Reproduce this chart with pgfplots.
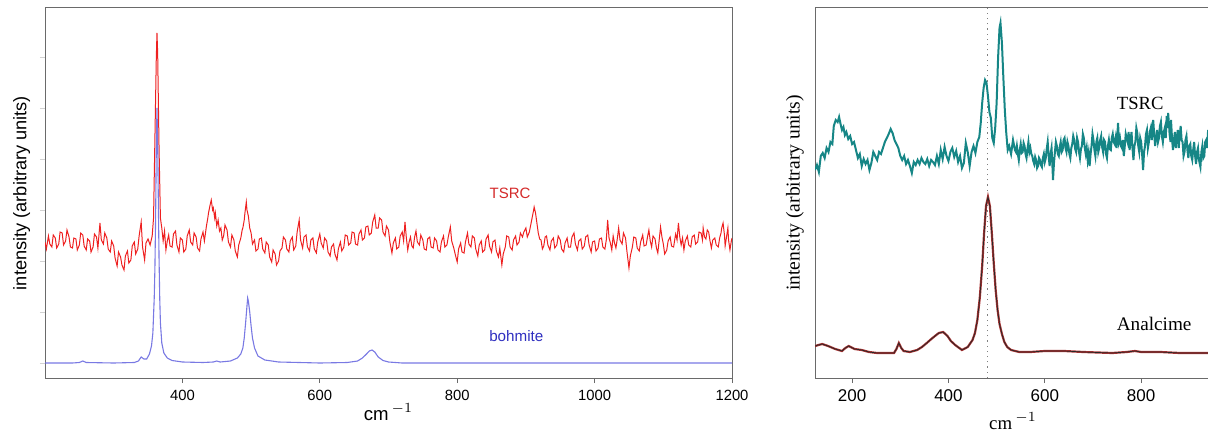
\documentclass[border=0pt]{standalone}
\usepackage{fontspec}
\setmainfont{Liberation Sans}
\newfontfamily\serifrm{Liberation Serif}
\usepackage{pgfplots}
\pgfplotsset{compat=1.18}
\definecolor{tsrcred}{HTML}{EE2020}
\definecolor{tsrclab}{HTML}{D42A2A}
\definecolor{bohblue}{HTML}{6A6AE0}
\definecolor{bohlab}{HTML}{3030C0}
\definecolor{tealc}{HTML}{168686}
\definecolor{analc}{HTML}{A83232}
\definecolor{frame}{HTML}{6A6A6A}

\pgfplotsset{
  panel/.style={
    scale only axis, anchor=south west, height=185pt,
    ymin=0, ymax=370, clip=true,
    tick align=outside, major tick length=2.5pt,
    xtick pos=bottom, ytick pos=left,
    axis line style={frame, line width=0.5pt},
    xtick style={frame, line width=0.5pt},
    /pgf/number format/assume math mode=true,
    /pgf/number format/set thousands separator={},
  },
}

\begin{document}
\begin{tikzpicture}
\path[use as bounding box] (0,0) rectangle (604pt,217pt);

% left panel: TSRC vs bohmite
\begin{axis}[panel, name=L, at={(22.5pt,28pt)}, width=343.5pt,
  xmin=200, xmax=1200, xtick={400,600,800,1000,1200},
  ytick={15,66,117,168,219,270,321}, yticklabels={},
  ytick style={gray!35, line width=0.4pt},
  ticklabel style={font=\fontsize{7.4}{8}\selectfont},
  xlabel={cm\,$^{-1}$},
  xlabel style={font=\fontsize{9.3}{10}\selectfont, at={(axis description cs:0.5,-0.092)}, anchor=center},
  ylabel={intensity (arbitrary units)},
  ylabel style={font=\fontsize{9.1}{10}\selectfont, at={(axis description cs:-0.0340,0.5)}, anchor=center},
]
\addplot[tsrcred, line width=0.5pt] coordinates {
(200,136) (202,129) (205,142) (207,134) (210,131) (212,143) (215,140) (217,130)
(220,134) (222,146) (225,145) (227,133) (230,137) (232,148) (235,141) (237,131)
(240,130) (242,140) (245,139) (247,128) (250,133) (252,145) (255,143) (257,132)
(260,128) (262,139) (265,137) (267,126) (270,131) (272,144) (275,141) (277,130)
(280,155) (282,138) (285,134) (287,145) (290,140) (292,129) (295,126) (297,137)
(300,132) (302,120) (305,112) (307,126) (310,121) (312,113) (315,108) (317,122)
(320,127) (322,115) (325,118) (327,132) (330,136) (332,124) (335,129) (337,142)
(340,156) (342,131) (345,118) (347,135) (350,139) (353,133) (356,142) (358,160)
(360,240) (362,320) (363,345) (364,325) (366,230) (368,160) (370,150) (372,137)
(374,147) (376,128) (378,137) (380,143) (382,132) (385,131) (387,144) (390,147)
(392,133) (395,126) (397,140) (400,138) (402,126) (405,129) (407,142) (410,148)
(412,136) (415,133) (417,145) (420,141) (422,130) (425,127) (427,139) (430,146)
(432,137) (435,152) (437,160) (438,165) (440,172) (442,178) (444,168) (445,170)
(447,160) (448,165) (450,152) (452,158) (454,147) (456,150) (458,138) (460,142)
(462,153) (465,148) (467,136) (470,131) (472,143) (475,138) (477,127) (480,121)
(482,133) (485,140) (487,148) (488,150) (490,158) (491,165) (493,176) (494,168)
(496,162) (498,150) (500,145) (502,134) (505,138) (507,127) (510,129) (512,139)
(515,140) (517,129) (520,125) (522,136) (525,133) (527,121) (530,116) (532,128)
(535,124) (537,113) (540,117) (542,127) (545,130) (547,141) (550,138) (552,129)
(555,126) (557,137) (560,141) (562,128) (565,132) (567,146) (570,158) (572,138)
(575,130) (577,141) (580,143) (582,131) (585,127) (587,138) (590,140) (592,129)
(595,125) (597,136) (600,144) (602,135) (605,130) (607,140) (610,137) (612,126)
(615,122) (617,131) (620,134) (622,124) (625,118) (627,129) (630,136) (632,127)
(635,131) (637,143) (640,142) (642,133) (645,135) (647,146) (650,145) (652,134)
(655,133) (657,144) (660,148) (662,138) (665,140) (667,151) (670,152) (672,143)
(675,145) (677,156) (680,163) (682,150) (685,150) (687,160) (690,158) (692,146)
(695,142) (697,152) (700,148) (702,136) (705,125) (707,135) (710,140) (712,129)
(715,131) (717,142) (720,146) (722,137) (724,156) (726,140) (728,128) (730,136)
(732,141) (734,132) (736,130) (738,141) (740,147) (742,136) (745,133) (747,143)
(750,138) (752,129) (755,128) (757,139) (760,141) (762,131) (765,130) (767,140)
(770,137) (772,128) (775,126) (777,136) (780,142) (782,131) (785,133) (787,141)
(790,151) (792,137) (795,130) (797,124) (800,116) (802,129) (805,135) (807,126)
(810,125) (812,136) (815,145) (817,134) (820,131) (822,142) (825,140) (827,129)
(830,122) (832,133) (835,137) (837,126) (840,128) (842,139) (845,143) (847,132)
(850,126) (852,136) (855,138) (857,127) (860,121) (862,130) (865,113) (867,124)
(870,131) (872,142) (875,141) (877,131) (880,128) (882,138) (885,142) (887,133)
(890,136) (892,145) (895,141) (897,146) (900,150) (902,141) (905,146) (907,153)
(909,160) (911,167) (912,171) (914,165) (915,160) (917,150) (918,145) (920,139)
(922,138) (924,129) (926,132) (928,141) (930,142) (932,133) (935,128) (937,137)
(940,140) (942,130) (945,133) (947,142) (950,138) (952,129) (955,126) (957,135)
(960,140) (962,131) (965,131) (967,141) (970,145) (972,134) (975,128) (977,137)
(980,139) (982,129) (985,132) (987,141) (990,143) (992,133) (995,126) (997,136)
(1000,137) (1002,127) (1005,130) (1007,139) (1010,140) (1012,131) (1015,129) (1017,138)
(1019,158) (1021,140) (1023,135) (1025,128) (1027,142) (1029,135) (1031,130) (1033,139)
(1035,150) (1037,138) (1040,134) (1042,145) (1045,140) (1047,127) (1050,110) (1052,122)
(1055,131) (1057,141) (1060,140) (1062,130) (1065,127) (1067,136) (1070,143) (1072,132)
(1075,133) (1077,141) (1079,148) (1081,137) (1083,131) (1085,142) (1088,139) (1090,130)
(1092,125) (1094,138) (1096,151) (1098,141) (1100,134) (1102,124) (1105,128) (1107,137)
(1110,141) (1112,132) (1115,131) (1117,140) (1118,144) (1120,138) (1122,155) (1124,141)
(1126,133) (1128,140) (1130,128) (1132,137) (1135,142) (1137,133) (1140,131) (1142,141)
(1145,143) (1147,134) (1150,136) (1152,146) (1155,145) (1157,138) (1158,150) (1160,141)
(1162,139) (1164,148) (1166,146) (1168,137) (1170,130) (1172,138) (1175,140) (1177,133)
(1180,131) (1182,140) (1184,145) (1185,150) (1187,155) (1189,143) (1190,132) (1192,141)
(1194,150) (1195,138) (1197,128) (1199,137) (1200,140)
};
\addplot[bohblue, line width=0.55pt, opacity=0.9] coordinates {
(200,15) (240,15) (250,15.5) (255,17) (260,15.5) (300,15) (330,15.5) (336,17)
(340,21) (344,19) (348,19) (352,24) (355,32) (357,45) (359,80) (360,110)
(361,160) (362,230) (363,270) (364,235) (365,175) (366,120) (367,80) (368,55)
(370,35) (373,25) (378,20) (385,17.5) (400,16) (430,15.5) (445,16) (450,17)
(455,16) (470,17) (480,20) (485,24) (488,30) (490,40) (492,55) (494,72)
(495,80) (496,77) (498,66) (500,52) (502,40) (505,30) (510,22) (520,18)
(540,16) (600,15) (640,15.5) (655,17) (662,20) (668,24) (672,27) (676,28)
(680,26) (685,21) (692,17.5) (700,16) (720,15) (800,15) (1000,15) (1200,15)
};
\node[tsrclab, font=\fontsize{7.5}{8}\selectfont] at (axis cs:877,185) {TSRC};
\node[bohlab, font=\fontsize{7.6}{8}\selectfont] at (axis cs:886,42) {bohmite};
\end{axis}

% right panel: TSRC vs analcime
\begin{axis}[panel, name=R, at={(407.5pt,28pt)}, width=198pt,
  xmin=123, xmax=945, xtick={200,400,600,800}, ytick=\empty,
  ticklabel style={font=\fontsize{8.5}{9}\selectfont},
  xlabel={\serifrm cm\,$^{-1}$},
  xlabel style={font=\fontsize{9.4}{10}\selectfont, at={(axis description cs:0.5,-0.117)}, anchor=center},
  ylabel={\serifrm intensity (arbitrary units)},
  ylabel style={font=\fontsize{9.8}{10}\selectfont, at={(axis description cs:-0.0505,0.5)}, anchor=center},
]
\addplot[gray, dotted, line width=0.6pt] coordinates {(481,0) (481,370)};
\addplot[tealc, line width=1pt] coordinates {
(123,208) (127,213) (131,206) (135,222) (139,225) (143,220) (147,230) (151,226)
(155,236) (159,234) (162,252) (166,258) (170,256) (173,261) (176,254) (179,248)
(182,251) (185,243) (188,246) (192,239) (196,242) (200,234) (204,236) (208,228)
(212,220) (216,224) (220,212) (224,219) (228,214) (232,218) (236,208) (240,215)
(244,226) (248,222) (252,218) (256,226) (260,224) (264,230) (268,236) (272,240)
(276,244) (280,249) (284,245) (288,238) (292,234) (296,230) (300,222) (304,218)
(308,222) (312,214) (316,218) (320,212) (324,205) (328,216) (332,213) (336,218)
(340,214) (344,220) (348,216) (352,214) (356,219) (360,212) (364,218) (368,216)
(372,213) (376,222) (380,214) (384,228) (388,219) (392,231) (396,222) (400,217)
(404,226) (408,230) (412,221) (416,227) (420,216) (424,222) (428,210) (432,215)
(436,235) (440,226) (444,212) (448,226) (452,232) (456,225) (460,236) (464,241)
(467,255) (470,275) (473,290) (476,298) (479,295) (482,282) (485,266) (488,260)
(491,240) (494,235) (497,250) (500,275) (503,320) (506,350) (508,355) (511,335)
(514,300) (517,268) (520,245) (523,228) (526,232) (530,224) (534,238) (538,228)
(540,226) (542,232) (544,224) (546,218) (548,228) (550,234) (552,225) (554,226)
(556,235) (558,232) (560,224) (562,220) (564,229) (566,236) (568,226) (570,230)
(572,224) (574,222) (576,217) (578,214) (580,221) (582,218) (584,210) (586,212)
(588,220) (590,218) (592,213) (594,211) (596,220) (598,224) (600,216) (602,220)
(604,229) (606,236) (608,222) (610,212) (612,224) (614,230) (616,210) (617,198)
(619,215) (621,226) (623,236) (625,232) (627,224) (629,222) (631,231) (633,236)
(635,226) (637,228) (639,238) (641,240) (643,230) (645,226) (647,236) (649,232)
(651,224) (653,220) (655,230) (657,234) (659,242) (661,238) (663,229) (665,226)
(667,240) (669,236) (671,226) (673,220) (675,229) (677,232) (679,244) (681,240)
(683,230) (685,224) (687,230) (689,218) (691,225) (693,212) (695,224) (697,232)
(699,244) (701,238) (703,228) (705,222) (707,236) (709,240) (711,226) (713,230)
(715,238) (717,242) (719,231) (721,226) (723,238) (725,236) (727,224) (729,220)
(731,232) (733,238) (735,229) (737,228) (739,240) (741,244) (743,236) (745,234)
(747,240) (749,230) (751,246) (752,255) (754,236) (756,240) (758,232) (760,230)
(762,238) (764,222) (766,232) (768,244) (770,240) (772,236) (774,246) (776,228)
(778,238) (780,246) (782,230) (784,218) (786,232) (788,236) (790,250) (792,245)
(794,232) (796,226) (798,240) (800,236) (802,224) (804,208) (806,226) (808,232)
(810,244) (812,248) (814,230) (816,236) (818,246) (820,250) (822,238) (825,258)
(827,244) (829,232) (831,240) (833,248) (835,236) (837,240) (839,252) (841,256)
(843,242) (845,236) (847,246) (849,250) (851,240) (853,262) (855,250) (856,265)
(858,252) (859,244) (861,236) (862,258) (864,240) (866,228) (868,238) (870,246)
(872,230) (874,240) (876,248) (878,230) (880,242) (882,252) (884,238) (886,236)
(888,222) (890,226) (892,238) (894,242) (896,228) (898,220) (900,232) (902,234)
(904,222) (906,218) (908,228) (910,236) (912,222) (914,214) (916,226) (918,230)
(920,218) (923,211) (925,226) (927,232) (929,220) (931,222) (933,236) (935,238)
(937,230) (939,248) (941,238) (943,230) (945,236)
};
\addplot[analc, line width=1.1pt] coordinates {
(117,31) (130,33) (138,34) (150,32) (165,29) (179,27) (186,30) (193,32)
(205,29) (220,28) (235,26) (252,25) (270,25) (287,25) (292,29) (297,35)
(302,30) (307,27) (320,26) (335,28) (345,31) (355,35) (362,38) (372,42)
(380,45) (389,46) (398,42) (405,37) (414,33) (428,28) (440,31) (450,38)
(455,45) (460,58) (465,80) (470,112) (474,145) (478,172) (482,181) (486,172)
(490,145) (494,115) (498,88) (502,68) (506,54) (511,44) (516,36) (522,31)
(530,28) (547,26) (570,26) (600,27) (640,27) (680,26) (740,25) (770,26)
(787,27) (800,26) (840,26) (880,25) (933,25) (945,25)
};
\addplot[black!85, line width=0.35pt] coordinates {
(117,31) (130,33) (138,34) (150,32) (165,29) (179,27) (186,30) (193,32)
(205,29) (220,28) (235,26) (252,25) (270,25) (287,25) (292,29) (297,35)
(302,30) (307,27) (320,26) (335,28) (345,31) (355,35) (362,38) (372,42)
(380,45) (389,46) (398,42) (405,37) (414,33) (428,28) (440,31) (450,38)
(455,45) (460,58) (465,80) (470,112) (474,145) (478,172) (482,181) (486,172)
(490,145) (494,115) (498,88) (502,68) (506,54) (511,44) (516,36) (522,31)
(530,28) (547,26) (570,26) (600,27) (640,27) (680,26) (740,25) (770,26)
(787,27) (800,26) (840,26) (880,25) (933,25) (945,25)
};
\node[font=\serifrm\fontsize{9.3}{10}\selectfont] at (axis cs:798,275) {TSRC};
\node[font=\serifrm\fontsize{9.6}{10}\selectfont] at (axis cs:827,54) {Analcime};
\end{axis}
\end{tikzpicture}
\end{document}
